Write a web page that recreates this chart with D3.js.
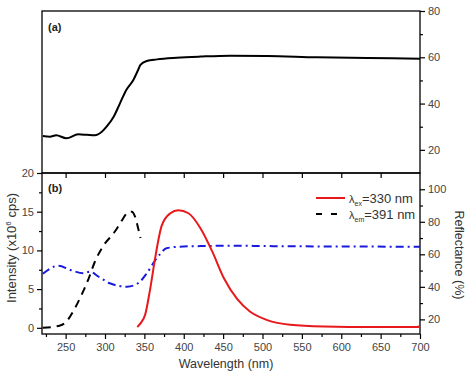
<!DOCTYPE html>
<html>
<head>
<meta charset="utf-8">
<script src="https://cdn.jsdelivr.net/npm/d3@7"></script>
<style>
  body { margin: 0; background: #fff; }
  svg text { font-family: "Liberation Sans", Arial, sans-serif; }
</style>
</head>
<body>
<div id="chart"></div>
<script>
// panel (a): reflectance curve
const reflA_nm  = [221, 230, 238, 251, 266, 277, 287, 296, 302, 311, 319, 327, 336, 342, 345, 353, 366, 391, 421, 459, 506, 569, 633, 700];
const reflA_val = [26.0, 25.7, 26.3, 25.0, 26.7, 26.5, 26.3, 27.8, 30, 34.3, 40.1, 45.9, 50.2, 54.5, 56.7, 58.4, 59.1, 59.8, 60.3, 60.7, 60.6, 60.0, 59.7, 59.4];

// panel (b): excitation (lambda_em = 391 nm), black dashed
const exc_nm  = [221, 243, 251, 260, 270, 279, 287, 298, 313, 321, 328, 334, 338, 342, 345];
const exc_val = [0, 0.3, 0.8, 2.2, 4.2, 6.3, 8.5, 10.6, 12.5, 13.8, 14.8, 15.0, 14.4, 12.9, 11.6];

// panel (b): emission (lambda_ex = 330 nm), red
const emi_nm  = [341, 346, 351, 357, 364, 372, 383, 393, 406, 421, 436, 451, 468, 484, 506, 535, 578, 641, 696, 700];
const emi_val = [0.1, 0.7, 1.7, 4.8, 9.2, 13.2, 14.8, 15.2, 14.8, 12.9, 9.9, 6.4, 3.7, 2.1, 1.0, 0.4, 0.17, 0.09, 0.09, 0.2];

// panel (b): reflectance, blue dash-dot (right axis)
const refl_nm  = [221, 241, 256, 273, 281, 292, 306, 328, 342, 353, 364, 370, 378, 395, 429, 468, 500, 600, 700];
const refl_val = [48.0, 53, 50.4, 48.3, 49.3, 46.2, 42.2, 40.1, 42.2, 48.3, 56.5, 60.2, 63.7, 64.7, 65.1, 65.3, 65.1, 64.8, 64.7];

const xTicks = [250, 300, 350, 400, 450, 500, 550, 600, 650, 700];
const leftTicks = [0, 5, 10, 15, 20];
const rightTicksB = [20, 40, 60, 80, 100];
const rightTicksA = [20, 40, 60, 80];

const W = 466, H = 374;
const svg = d3.select("#chart").append("svg").attr("width", W).attr("height", H);

const x = d3.scaleLinear().domain([220, 700]).range([42, 420]);
const yA = d3.scaleLinear().domain([10, 80]).range([173, 11]);
const yL = d3.scaleLinear().domain([-0.8, 20]).range([334, 173]);
const yR = d3.scaleLinear().domain([11, 110]).range([334, 173]);

const tickCol = "#444";
const fs = 11;

function styleAxis(g) {
  g.select(".domain").remove();
  g.selectAll(".tick line").attr("stroke", "#000").attr("stroke-width", 1.2);
  g.selectAll(".tick text").attr("fill", tickCol).style("font-size", fs + "px");
}

// panel (a) right axis
svg.append("g").attr("transform", "translate(420,0)")
  .call(d3.axisRight(yA).tickValues(rightTicksA).tickSize(5).tickPadding(3))
  .call(styleAxis);
svg.append("g").attr("transform", "translate(420,0)")
  .call(d3.axisRight(yA).tickValues([30, 50, 70]).tickSize(3).tickFormat(""))
  .call(styleAxis);

// shared edge ticks pointing into panel (b)
svg.append("g").attr("transform", "translate(0,173)")
  .call(d3.axisBottom(x).tickValues(xTicks.slice(0, -1)).tickSize(5).tickFormat(""))
  .call(styleAxis);

// panel (b) bottom axis
svg.append("g").attr("transform", "translate(0,334)")
  .call(d3.axisBottom(x).tickValues(xTicks).tickSize(5).tickPadding(4))
  .call(styleAxis);
svg.append("g").attr("transform", "translate(0,334)")
  .call(d3.axisBottom(x).tickValues(d3.range(225, 700, 50)).tickSize(3).tickFormat(""))
  .call(styleAxis);

// panel (b) left axis
svg.append("g").attr("transform", "translate(42,0)")
  .call(d3.axisLeft(yL).tickValues(leftTicks).tickSize(5).tickPadding(3))
  .call(styleAxis);
svg.append("g").attr("transform", "translate(42,0)")
  .call(d3.axisLeft(yL).tickValues([2.5, 7.5, 12.5, 17.5]).tickSize(3).tickFormat(""))
  .call(styleAxis);

// panel (b) right axis
svg.append("g").attr("transform", "translate(420,0)")
  .call(d3.axisRight(yR).tickValues(rightTicksB).tickSize(5).tickPadding(3))
  .call(styleAxis);
svg.append("g").attr("transform", "translate(420,0)")
  .call(d3.axisRight(yR).tickValues([30, 50, 70, 90]).tickSize(3).tickFormat(""))
  .call(styleAxis);

// frames
svg.append("rect").attr("x", 42).attr("y", 11).attr("width", 378).attr("height", 162)
  .attr("fill", "none").attr("stroke", "#000").attr("stroke-width", 1.3);
svg.append("rect").attr("x", 42).attr("y", 173).attr("width", 378).attr("height", 161)
  .attr("fill", "none").attr("stroke", "#000").attr("stroke-width", 1.3);

const zip = (a, b) => a.map((v, i) => [v, b[i]]);

// curves
const lineA = d3.line().x(d => x(d[0])).y(d => yA(d[1])).curve(d3.curveMonotoneX);
const lineL = d3.line().x(d => x(d[0])).y(d => yL(d[1])).curve(d3.curveMonotoneX);
const lineR = d3.line().x(d => x(d[0])).y(d => yR(d[1])).curve(d3.curveMonotoneX);

svg.append("path").datum(zip(reflA_nm, reflA_val))
  .attr("fill", "none").attr("stroke", "#000").attr("stroke-width", 2).attr("d", lineA);

svg.append("path").datum(zip(refl_nm, refl_val))
  .attr("fill", "none").attr("stroke", "#1a1adf").attr("stroke-width", 2)
  .attr("stroke-dasharray", "8,4,2,4").attr("d", lineR);

svg.append("path").datum(zip(exc_nm, exc_val))
  .attr("fill", "none").attr("stroke", "#000").attr("stroke-width", 2)
  .attr("stroke-dasharray", "8,6").attr("d", lineL);

svg.append("path").datum(zip(emi_nm, emi_val))
  .attr("fill", "none").attr("stroke", "#e8191c").attr("stroke-width", 2).attr("d", lineL);

// panel labels
svg.append("text").attr("x", 48).attr("y", 31).style("font-size", "11px").style("font-weight", "bold")
  .attr("fill", "#222").text("(a)");
svg.append("text").attr("x", 48).attr("y", 192).style("font-size", "11px").style("font-weight", "bold")
  .attr("fill", "#222").text("(b)");

// axis titles
svg.append("text").attr("transform", "translate(16,248) rotate(-90)").attr("text-anchor", "middle")
  .style("font-size", "13px").attr("fill", "#333")
  .call(t => {
    t.append("tspan").text("Intensity (x10");
    t.append("tspan").attr("dy", -5).style("font-size", "8px").text("6");
    t.append("tspan").attr("dy", 5).text(" cps)");
  });
svg.append("text").attr("transform", "translate(455,255) rotate(90)").attr("text-anchor", "middle")
  .style("font-size", "12.5px").attr("fill", "#333").text("Reflectance (%)");
svg.append("text").attr("x", 226).attr("y", 368).attr("text-anchor", "middle")
  .style("font-size", "12.5px").attr("fill", "#333").text("Wavelength (nm)");

// legend
const legend = [
  { sub: "ex", txt: "=330 nm", color: "#e8191c", dash: null, y: 198 },
  { sub: "em", txt: "=391 nm", color: "#000", dash: "6,9", y: 214 }
];
legend.forEach(d => {
  svg.append("line").attr("x1", 316).attr("x2", 345).attr("y1", d.y).attr("y2", d.y)
    .attr("stroke", d.color).attr("stroke-width", 2).attr("stroke-dasharray", d.dash);
  const t = svg.append("text").attr("x", 349).attr("y", d.y + 4.5)
    .style("font-size", "13px").attr("fill", "#333");
  t.append("tspan").style("font-size", "11px").text("λ");
  t.append("tspan").attr("dy", 3).style("font-size", "7px").text(d.sub);
  t.append("tspan").attr("dy", -3).text(d.txt);
});
</script>
</body>
</html>
